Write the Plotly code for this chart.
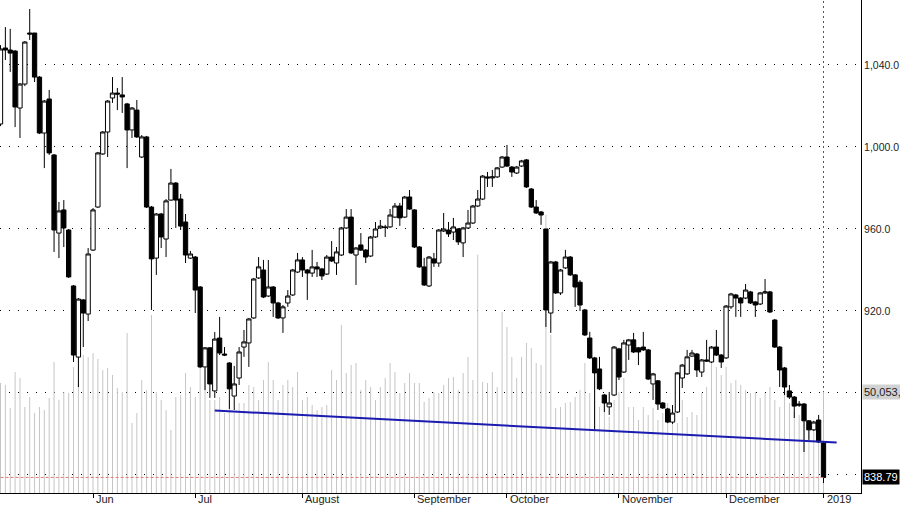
import pandas as pd
import plotly.graph_objects as go

# ---------------- data ----------------
holidays = ["2018-09-03", "2018-12-25", "2019-01-01"]
dates = [d for d in pd.bdate_range("2018-05-07", "2019-01-02")
         if d.strftime("%Y-%m-%d") not in holidays]

opens = [
    1011.2, 1048.3, 1047.3, 1046.8, 1019.0, 1030.7, 1055.6, 1055.6, 1034.1, 1006.8,
    1023.4, 996.1, 958.0, 969.3, 959.5, 932.2, 897.5, 925.4, 918.5, 949.7,
    970.7, 996.6, 1007.3, 1023.9, 1026.3, 1025.4, 1021.0, 1008.3, 1018.0, 995.1,
    1004.9, 970.7, 945.8, 967.3, 955.1, 974.1, 982.4, 974.6, 963.4, 945.8,
    946.3, 931.7, 892.7, 902.0, 881.0, 906.8, 899.0, 894.6, 878.5, 887.3,
    902.4, 904.4, 916.6, 936.1, 940.0, 927.3, 931.7, 923.9, 916.6, 923.9,
    927.8, 939.0, 944.9, 940.0, 938.5, 941.5, 940.5, 938.0, 946.3, 943.4,
    947.3, 960.5, 965.8, 947.3, 952.2, 949.7, 946.8, 956.1, 960.5, 961.0,
    961.0, 965.8, 971.2, 965.8, 975.6, 969.3, 951.2, 941.5, 932.2, 945.4,
    943.4, 959.0, 959.5, 958.5, 960.0, 953.2, 960.5, 962.9, 971.2, 974.6,
    985.4, 984.9, 985.4, 990.2, 995.1, 990.2, 987.3, 990.7, 993.7, 979.5,
    970.7, 968.3, 960.0, 919.0, 943.9, 928.8, 941.0, 946.3, 937.6, 934.0,
    920.5, 906.8, 897.1, 891.7, 879.0, 873.2, 879.0, 901.5, 890.2, 903.4,
    905.9, 902.0, 902.4, 901.0, 884.4, 885.9, 875.1, 872.2, 865.8, 870.7,
    887.3, 889.3, 898.0, 899.0, 890.2, 896.1, 895.1, 902.4, 898.5, 897.1,
    922.0, 927.8, 926.3, 926.3, 929.3, 924.4, 923.4, 928.8, 929.3, 915.6,
    902.4, 892.2, 881.0, 878.0, 874.6, 874.6, 866.4, 862.0, 866.8, 855.6,
]
highs = [
    1049.7, 1058.5, 1057.6, 1047.3, 1031.2, 1051.7, 1067.3, 1055.6, 1034.6, 1022.9,
    1027.8, 996.6, 973.2, 974.1, 960.0, 932.7, 926.3, 925.8, 950.7, 970.2,
    997.6, 1007.8, 1022.9, 1034.1, 1028.8, 1034.1, 1021.5, 1019.5, 1022.9, 1005.8,
    1005.4, 971.2, 967.8, 967.8, 974.6, 989.3, 982.9, 977.1, 967.3, 949.3,
    946.8, 932.2, 902.4, 902.4, 909.7, 917.1, 902.4, 895.1, 893.2, 902.4,
    910.7, 916.6, 936.1, 946.3, 944.9, 944.9, 932.2, 924.4, 922.9, 930.2,
    940.5, 948.3, 946.3, 940.5, 949.8, 943.9, 941.0, 947.3, 954.1, 951.2,
    961.0, 969.7, 969.7, 951.2, 958.0, 950.2, 956.6, 963.4, 964.4, 962.0,
    969.7, 972.7, 972.7, 976.1, 979.0, 969.7, 951.7, 945.9, 946.8, 948.3,
    960.0, 967.8, 963.4, 965.4, 960.5, 961.0, 969.3, 971.7, 979.0, 986.3,
    987.8, 988.8, 990.2, 995.6, 1001.0, 990.7, 990.7, 993.7, 994.1, 980.0,
    974.1, 968.8, 960.0, 944.4, 944.4, 940.5, 949.8, 946.8, 938.0, 935.0,
    921.0, 909.8, 897.6, 897.6, 879.5, 880.5, 902.9, 902.0, 905.9, 906.3,
    909.3, 902.4, 909.8, 901.5, 889.8, 886.3, 875.6, 872.7, 874.1, 890.2,
    894.1, 901.0, 901.0, 899.5, 896.6, 905.9, 902.9, 910.7, 899.0, 922.9,
    928.8, 928.3, 926.8, 933.2, 929.8, 924.9, 929.3, 935.6, 929.8, 916.1,
    902.9, 892.7, 883.9, 878.5, 876.1, 875.1, 866.8, 866.4, 869.3, 856.1,
]
lows = [
    1010.2, 1042.4, 1036.6, 1009.7, 1004.4, 1029.7, 1052.2, 1031.7, 1006.3, 989.7,
    996.1, 948.8, 945.8, 951.2, 936.1, 895.1, 882.9, 902.4, 915.1, 949.3,
    970.2, 996.1, 995.1, 1021.5, 1018.0, 1016.6, 989.7, 1004.4, 1004.4, 994.6,
    970.2, 920.5, 937.6, 950.7, 946.3, 973.7, 960.5, 959.5, 943.4, 945.4,
    919.0, 892.2, 881.4, 877.6, 877.6, 898.5, 898.0, 872.2, 871.7, 883.9,
    897.6, 892.7, 916.1, 935.6, 926.3, 926.8, 917.1, 916.1, 909.3, 922.0,
    927.3, 938.5, 936.6, 925.4, 936.6, 936.6, 935.1, 937.6, 943.9, 937.6,
    946.8, 960.0, 947.8, 932.7, 949.3, 943.4, 946.3, 955.6, 960.0, 956.1,
    960.5, 965.4, 961.5, 965.4, 969.3, 950.7, 941.0, 932.2, 931.7, 941.5,
    941.5, 958.5, 956.1, 954.6, 952.2, 946.3, 960.0, 962.4, 970.7, 974.1,
    980.5, 980.5, 984.9, 989.8, 990.2, 985.4, 986.8, 990.2, 980.0, 970.2,
    967.3, 962.0, 912.2, 909.3, 928.3, 927.8, 940.5, 937.1, 922.0, 920.0,
    907.8, 896.6, 862.0, 881.4, 870.7, 869.3, 878.5, 886.3, 889.8, 896.1,
    899.5, 893.6, 900.5, 886.3, 876.6, 871.7, 872.2, 865.3, 864.9, 870.2,
    882.4, 888.8, 897.6, 887.8, 887.8, 895.1, 894.6, 898.0, 892.2, 896.6,
    921.0, 917.1, 917.1, 925.8, 923.4, 917.1, 922.9, 928.3, 919.0, 902.0,
    882.9, 879.0, 877.1, 867.8, 873.2, 851.2, 857.1, 861.5, 855.6, 836.1,
]
closes = [
    1047.8, 1047.3, 1045.8, 1019.5, 1030.7, 1051.2, 1055.1, 1034.1, 1006.8, 1022.4,
    997.1, 959.5, 968.8, 960.5, 936.6, 898.5, 925.8, 919.0, 947.8, 969.3,
    997.1, 1007.3, 1022.4, 1026.3, 1025.8, 1024.4, 1008.3, 1019.0, 1004.9, 1004.9,
    970.7, 945.4, 967.3, 956.1, 973.7, 982.4, 974.1, 961.4, 947.3, 947.8,
    930.2, 892.7, 902.0, 884.4, 906.3, 899.5, 898.5, 882.0, 884.4, 900.0,
    904.9, 916.1, 935.6, 941.5, 926.8, 931.7, 923.9, 916.6, 922.0, 927.3,
    940.0, 944.9, 940.0, 938.5, 941.5, 940.5, 937.1, 946.3, 944.4, 948.8,
    960.5, 965.8, 948.3, 950.7, 949.7, 946.3, 956.1, 960.0, 961.4, 960.7,
    966.8, 971.2, 965.4, 975.6, 969.7, 951.2, 941.5, 932.7, 946.3, 943.4,
    959.5, 960.0, 957.6, 961.0, 953.7, 960.5, 962.9, 971.2, 974.6, 985.8,
    984.9, 985.4, 989.8, 995.1, 990.7, 987.8, 990.2, 993.2, 980.5, 970.7,
    967.8, 966.8, 920.5, 943.9, 928.8, 940.0, 946.3, 937.6, 931.7, 922.9,
    908.3, 897.1, 889.8, 882.0, 875.1, 875.1, 902.4, 887.8, 904.4, 905.9,
    900.0, 900.0, 901.0, 886.8, 889.3, 874.6, 872.7, 865.8, 870.2, 889.8,
    893.6, 897.6, 899.5, 891.2, 896.1, 895.6, 902.4, 898.5, 895.1, 922.4,
    928.3, 926.3, 923.9, 930.2, 923.9, 922.9, 928.8, 929.3, 919.5, 902.4,
    891.2, 882.9, 878.0, 873.6, 874.1, 866.4, 862.0, 865.8, 856.1, 838.79,
]
# volume in millions of shares
volumes = [
    54.5, 53.5, 42.1, 60.0, 57.0, 42.6, 47.6, 39.6, 42.6, 41.1,
    47.1, 64.9, 46.1, 50.1, 49.6, 62.4, 55.0, 68.4, 67.4, 69.4,
    66.4, 61.0, 61.9, 58.5, 52.0, 50.1, 79.3, 34.7, 39.6, 56.0,
    51.0, 88.2, 50.1, 46.1, 41.1, 31.2, 47.6, 48.6, 59.5, 52.5,
    47.6, 61.9, 61.9, 46.1, 46.1, 47.6, 39.6, 46.1, 39.6, 44.6,
    44.6, 53.5, 52.5, 46.1, 56.0, 64.9, 56.0, 46.1, 53.5, 56.0,
    52.5, 60.0, 46.1, 47.6, 43.6, 41.1, 42.6, 43.6, 61.0, 56.0,
    83.3, 59.5, 63.4, 64.4, 51.0, 56.0, 52.5, 46.1, 52.5, 57.0,
    64.4, 60.0, 49.6, 54.5, 59.5, 54.5, 54.5, 45.1, 47.1, 50.1,
    49.6, 53.5, 57.0, 57.5, 51.0, 59.5, 67.4, 56.0, 118.0, 55.0,
    54.5, 60.0, 52.5, 89.7, 82.3, 67.4, 57.0, 67.4, 74.3, 71.9,
    64.4, 63.4, 137.8, 78.3, 42.1, 42.6, 44.6, 45.1, 47.6, 51.0,
    64.4, 49.6, 56.0, 42.6, 46.1, 37.7, 46.1, 50.1, 57.0, 42.6,
    42.6, 36.2, 42.6, 38.7, 42.1, 36.2, 39.6, 44.6, 43.6, 34.7,
    46.1, 37.7, 40.1, 38.7, 49.6, 52.5, 65.9, 62.4, 58.5, 62.4,
    54.5, 56.0, 53.5, 51.0, 49.6, 50.1, 47.1, 49.6, 52.5, 46.1,
    42.6, 50.1, 44.6, 40.1, 38.7, 36.2, 33.7, 32.7, 36.2, 50.053,
]
month_labels = ["Jun", "Jul", "August", "September", "October",
                "November", "December", "2019"]
price_ticks = [840, 880, 920, 960, 1000, 1040]
price_ticktext = ["", "", "920.0", "960.0", "1,000.0", "1,040.0"]
trend_idx = [44, 171.7]          # trendline anchor points (bar index)
trend_prices = [871.4, 855.8]
last_price = 838.79
last_volume_text = "50,053,412"

# ---------------- figure ----------------
idx = list(range(len(dates)))
month_starts = [i for i in idx[1:] if dates[i].month != dates[i - 1].month]

FONT = "Arial, 'Liberation Sans', sans-serif"

fig = go.Figure()
fig.add_trace(go.Bar(
    x=idx, y=volumes, width=0.2, yaxis="y",
    marker=dict(color="#c4c4c4", line=dict(width=0)),
    hoverinfo="skip", showlegend=False))
fig.add_trace(go.Candlestick(
    x=idx, open=opens, high=highs, low=lows, close=closes, yaxis="y2",
    increasing=dict(line=dict(color="#000000", width=1), fillcolor="#ffffff"),
    decreasing=dict(line=dict(color="#000000", width=1), fillcolor="#000000"),
    whiskerwidth=0, showlegend=False))
fig.add_trace(go.Scatter(
    x=[idx[0] - 1, idx[-1]], y=[last_price, last_price], yaxis="y2",
    mode="lines", line=dict(color="#e07a7a", width=1, dash="3px,2px"),
    hoverinfo="skip", showlegend=False))
fig.add_trace(go.Scatter(
    x=trend_idx, y=trend_prices, yaxis="y2", mode="lines",
    line=dict(color="#1b1bb0", width=2), hoverinfo="skip", showlegend=False))

annotations = []
for i, lab in zip(month_starts, month_labels):
    annotations.append(dict(
        x=i, y=0, xref="x", yref="paper", xanchor="left", yanchor="top",
        text=lab, showarrow=False, xshift=1, yshift=2,
        font=dict(family=FONT, size=11, color="#222222")))
annotations.append(dict(
    x=1, y=volumes[-1], xref="paper", yref="y", xanchor="left", yanchor="middle",
    text=last_volume_text, showarrow=False, xshift=1, bgcolor="#d2d2d2",
    borderpad=1, font=dict(family=FONT, size=11, color="#222222")))
annotations.append(dict(
    x=1, y=last_price, xref="paper", yref="y2", xanchor="left", yanchor="middle",
    text=f"{last_price:.2f}", showarrow=False, xshift=1, bgcolor="#000000",
    borderpad=1, font=dict(family=FONT, size=11, color="#ffffff")))

fig.update_layout(
    template="none",
    width=900, height=506,
    margin=dict(l=0, r=39, t=0, b=13, pad=0, autoexpand=False),
    paper_bgcolor="#ffffff", plot_bgcolor="#ffffff",
    font=dict(family=FONT, size=11, color="#222222"),
    boxgap=0.06, boxgroupgap=0.06,
    showlegend=False,
    xaxis=dict(
        range=[-0.1, 176.7], showgrid=False, zeroline=False, automargin=False,
        showline=True, linecolor="#000000", linewidth=1,
        ticks="outside", ticklen=4, tickcolor="#000000", tickwidth=1,
        tickvals=month_starts, showticklabels=False,
        rangeslider=dict(visible=False), fixedrange=True),
    yaxis=dict(range=[0, 244.3], visible=False, showgrid=False,
               zeroline=False, automargin=False),
    yaxis2=dict(
        overlaying="y", side="right", range=[831.2, 1071.7], automargin=False,
        tickvals=price_ticks, ticktext=price_ticktext,
        showgrid=True, gridcolor="#000000", gridwidth=1, griddash="1px,8px",
        zeroline=False, showline=True, linecolor="#000000", linewidth=1,
        ticks="", tickfont=dict(family=FONT, size=10.5, color="#222222")),
    shapes=[dict(
        type="line", xref="x", yref="paper",
        x0=month_starts[-1], x1=month_starts[-1], y0=0, y1=1,
        line=dict(color="#555555", width=1, dash="2px,3px"), layer="below")],
    annotations=annotations,
)

fig.write_html(
    "out.html",
    config={"displayModeBar": False, "staticPlot": True},
    post_script="document.body.style.margin='0';"
                "document.body.style.overflow='hidden';",
)
